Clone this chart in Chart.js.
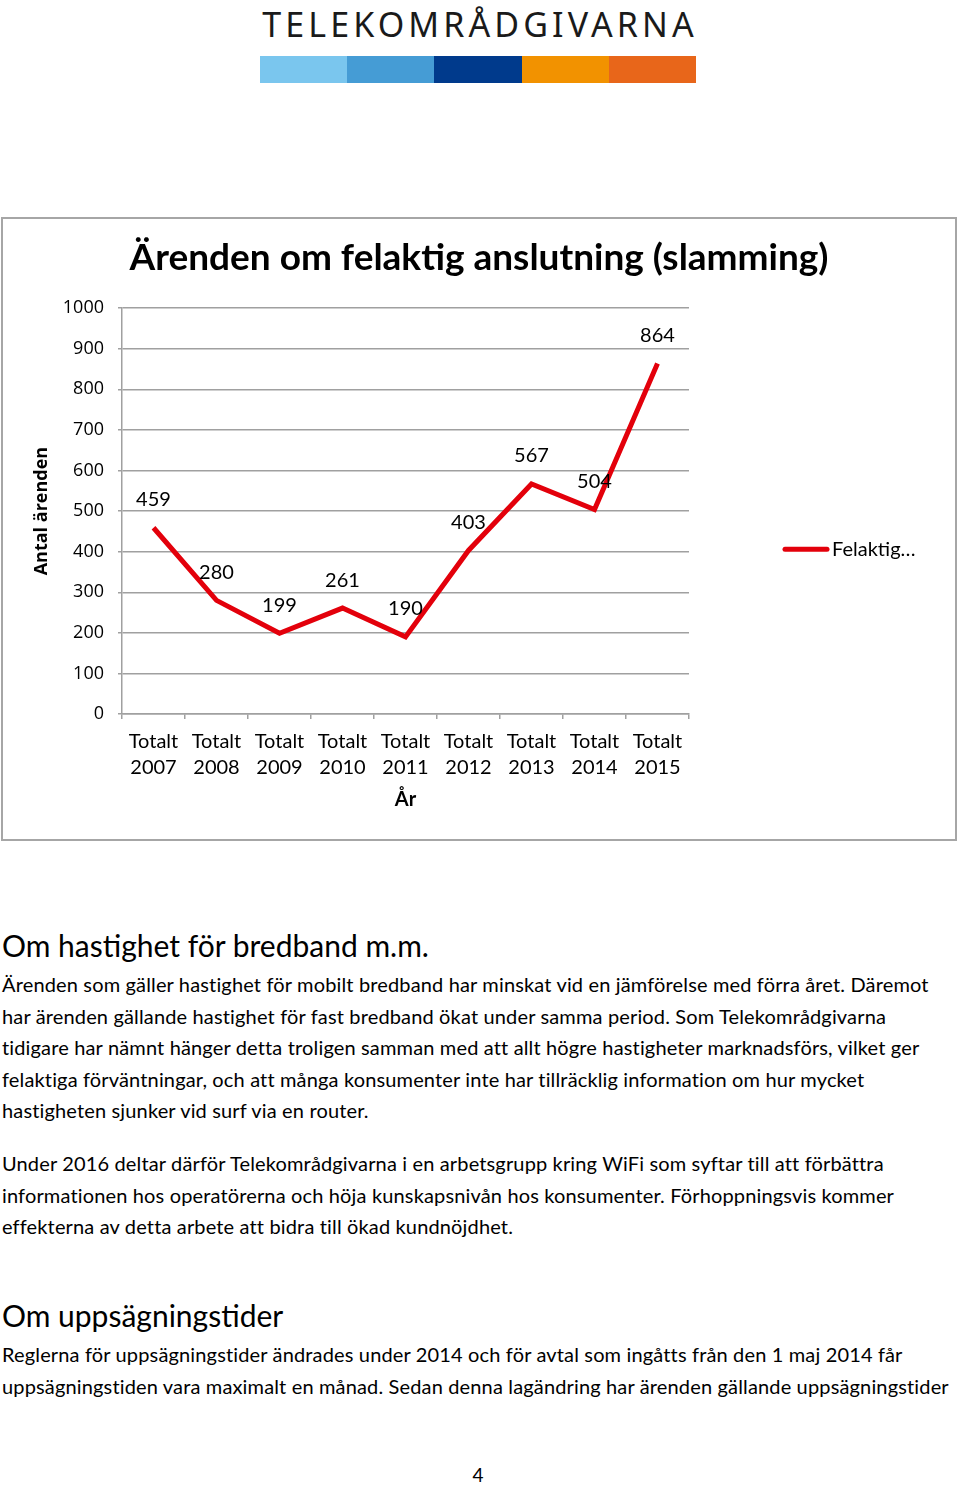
<!DOCTYPE html>
<html>
<head>
<meta charset="utf-8">
<script src="https://cdn.jsdelivr.net/npm/chart.js@4.4.1/dist/chart.umd.min.js"></script>
<style>
  html, body { margin: 0; padding: 0; background: #fff; }
  body { width: 960px; height: 1488px; position: relative; overflow: hidden; font-family: Lato, sans-serif; color: #000; }
  .logo-text { position: absolute; left: 2px; width: 956px; top: 7px; text-align: center; font-family: "Noto Sans", sans-serif; font-size: 34px; line-height: 34px; letter-spacing: 4.1px; color: #1a1a1a; }
  .logo-bar { position: absolute; left: 260px; top: 56px; height: 27px; width: 436px; display: flex; }
  .logo-bar div { flex: 1; }
  #box { position: absolute; left: 1px; top: 217px; width: 952px; height: 620px; border: 2px solid #a6a6a6; }
  #myChart { position: absolute; left: 0; top: 0; }
  .txt { position: absolute; left: 2px; white-space: nowrap; }
  h2.txt { margin: 0; font-weight: 400; font-size: 30px; line-height: 36px; }
  p.txt { margin: 0; font-size: 20px; line-height: 31.6px; letter-spacing: 0.15px; }
  .pnum { position: absolute; left: 0; width: 956px; text-align: center; font-size: 19px; line-height: 24px; top: 1463px; }
</style>
</head>
<body>
<div class="logo-text">TELEKOMRÅDGIVARNA</div>
<div class="logo-bar">
  <div style="background:#7ac6ee"></div>
  <div style="background:#459cd5"></div>
  <div style="background:#003a8c"></div>
  <div style="background:#f29200"></div>
  <div style="background:#e8661a"></div>
</div>

<div id="box"><canvas id="myChart" width="952" height="620" style="width:952px;height:620px"></canvas></div>

<h2 class="txt" style="top:927px">Om hastighet för bredband m.m.</h2>
<p class="txt" style="top:969px">Ärenden som gäller hastighet för mobilt bredband har minskat vid en jämförelse med förra året. Däremot<br>har ärenden gällande hastighet för fast bredband ökat under samma period. Som Telekområdgivarna<br>tidigare har nämnt hänger detta troligen samman med att allt högre hastigheter marknadsförs, vilket ger<br>felaktiga förväntningar, och att många konsumenter inte har tillräcklig information om hur mycket<br>hastigheten sjunker vid surf via en router.</p>
<p class="txt" style="top:1148px">Under 2016 deltar därför Telekområdgivarna i en arbetsgrupp kring WiFi som syftar till att förbättra<br>informationen hos operatörerna och höja kunskapsnivån hos konsumenter. Förhoppningsvis kommer<br>effekterna av detta arbete att bidra till ökad kundnöjdhet.</p>
<h2 class="txt" style="top:1297px">Om uppsägningstider</h2>
<p class="txt" style="top:1339px">Reglerna för uppsägningstider ändrades under 2014 och för avtal som ingåtts från den 1 maj 2014 får<br>uppsägningstiden vara maximalt en månad. Sedan denna lagändring har ärenden gällande uppsägningstider</p>
<div class="pnum">4</div>

<script>
// Chart data
const years = ['2007', '2008', '2009', '2010', '2011', '2012', '2013', '2014', '2015'];
const cases = [459, 280, 199, 261, 190, 403, 567, 504, 864];
const seriesName = 'Felaktig…';
const chartTitle = 'Ärenden om felaktig anslutning (slamming)';
const yTitle = 'Antal ärenden';
const xTitle = 'År';

const gridGrey = '#a0a0a0';
const lineRed = '#e3000b';

// Value labels above each point
const valueLabels = {
    id: 'valueLabels',
    afterDatasetsDraw(chart) {
        const c = chart.ctx;
        const meta = chart.getDatasetMeta(0);
        c.save();
        c.font = '20px Lato';
        c.fillStyle = '#000';
        c.textAlign = 'center';
        c.textBaseline = 'middle';
        meta.data.forEach((pt, i) => {
            c.fillText(String(chart.data.datasets[0].data[i]), pt.x, pt.y - 28);
        });
        c.restore();
    }
};

// Legend on the right, line sample + name
const sideLegend = {
    id: 'sideLegend',
    afterDraw(chart) {
        const c = chart.ctx;
        const area = chart.chartArea;
        const x = area.right + 96;
        const y = area.top + 241;
        c.save();
        c.strokeStyle = lineRed;
        c.lineWidth = 5;
        c.lineCap = 'round';
        c.beginPath();
        c.moveTo(x, y);
        c.lineTo(x + 42, y);
        c.stroke();
        c.font = '20px Lato';
        c.fillStyle = '#000';
        c.textAlign = 'left';
        c.textBaseline = 'middle';
        c.fillText(chart.data.datasets[0].label, x + 47, y);
        c.restore();
    }
};

const ctx = document.getElementById('myChart');

const myChart = new Chart(ctx, {
    type: 'line',
    data: {
        labels: years.map(y => ['Totalt', y]),
        datasets: [{
            label: seriesName,
            data: cases,
            borderColor: lineRed,
            backgroundColor: lineRed,
            borderWidth: 5,
            pointRadius: 0,
            tension: 0
        }]
    },
    options: {
        responsive: false,
        animation: false,
        devicePixelRatio: 1,
        layout: { padding: 0 },
        plugins: {
            legend: { display: false },
            tooltip: { enabled: false },
            title: {
                display: true,
                text: chartTitle,
                color: '#000',
                font: { family: 'Lato', size: 37, weight: 'bold', lineHeight: 1.2 },
                padding: { top: 16.8, bottom: 28 }
            }
        },
        scales: {
            x: {
                offset: true,
                afterFit(scale) { scale.height = 125; },
                grid: { offset: true, drawOnChartArea: false, drawTicks: true, tickLength: 5, color: gridGrey, lineWidth: 1.5 },
                border: { color: gridGrey, width: 1.5 },
                ticks: { color: '#000', padding: 10, maxRotation: 0, autoSkip: false, font: { family: 'Lato', size: 20, lineHeight: 1.3 } },
                title: { display: true, text: xTitle, color: '#000', font: { family: 'Lato', size: 20, weight: 'bold', lineHeight: 1.2 }, padding: { top: 0, bottom: 27 } }
            },
            y: {
                min: 0,
                max: 1000,
                afterFit(scale) { scale.width = 119; },
                grid: { color: gridGrey, lineWidth: 1.5, drawTicks: true, tickLength: 4 },
                border: { color: gridGrey, width: 1.5 },
                ticks: { stepSize: 100, color: '#000', padding: 14, font: { family: 'Open Sans', size: 18 }, callback: v => String(v) },
                title: { display: true, text: yTitle, color: '#000', font: { family: 'Open Sans', size: 18, weight: 'bold', lineHeight: 1.2 }, padding: { top: 28.2, bottom: 0 } }
            },
            // empty right-hand box that holds the legend space
            legendSpace: {
                type: 'linear',
                position: 'right',
                afterFit(scale) { scale.width = 266; },
                grid: { display: false },
                border: { display: false },
                ticks: { display: false }
            }
        }
    },
    plugins: [valueLabels, sideLegend]
});
</script>
</body>
</html>
